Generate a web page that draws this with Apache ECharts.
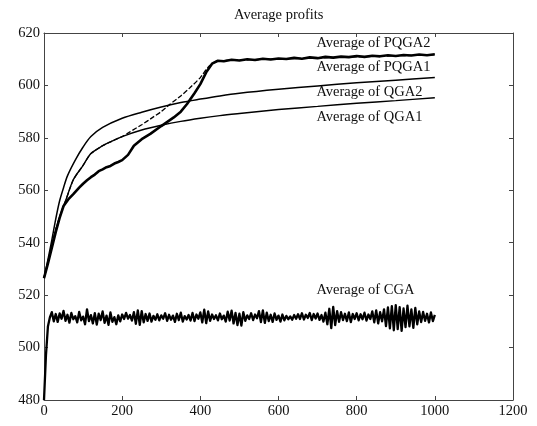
<!DOCTYPE html>
<html>
<head>
<meta charset="utf-8">
<script src="https://cdn.jsdelivr.net/npm/echarts@6.0.0/dist/echarts.min.js"></script>
<style>
  html, body { margin: 0; padding: 0; background: #fff; }
  #chart { width: 537px; height: 426px; }
</style>
</head>
<body>
<div id="chart"></div>
<script>
// ---- Axis ranges / ticks ----
const xTicks = [0, 200, 400, 600, 800, 1000, 1200];
const yTicks = [480, 500, 520, 540, 560, 580, 600, 620];

// ---- Series: Average of QGA2 (smooth, ends ~603) ----
const qga2X = [0, 10, 20, 30, 40, 50, 60, 80, 100, 120, 150, 200, 250, 300, 350, 400, 450, 500, 600, 700, 800, 900, 1000];
const qga2Y = [526.5, 533.5, 541, 549, 556, 561, 565.5, 571.5, 576.5, 580.5, 584, 587.5, 589.8, 591.8, 593.5, 594.8, 596, 597, 598.5, 599.8, 601, 602, 603];

// ---- Series: Average of QGA1 (ends ~595) ----
const qga1X = [0, 10, 20, 30, 45, 56, 75, 100, 120, 150, 170, 200, 250, 300, 350, 400, 450, 500, 600, 700, 800, 900, 1000];
const qga1Y = [526.5, 532.5, 539, 545, 552, 556.3, 564, 569.5, 574, 577, 578.5, 580.5, 583, 584.8, 586.3, 587.5, 588.5, 589.3, 590.8, 592, 593.2, 594.2, 595.3];

// ---- Series: Average of PQGA1 (dashed rise to plateau ~610) ----
const pqga1X = [0, 10, 20, 30, 45, 56, 75, 100, 120, 150, 170, 200, 220, 250, 280, 300, 323, 350, 374, 400, 420, 440, 460, 500, 600, 700, 800, 900, 1000];
const pqga1Y = [526.5, 532.5, 539, 545, 552, 556.3, 564, 569.5, 574, 577, 578.5, 580.5, 582.3, 585, 588, 590, 592.9, 596, 599.2, 603, 607, 609.2, 609.5, 609.7, 610.1, 610.5, 610.9, 611.3, 611.7];

// ---- Series: Average of PQGA2 (thick, noisy, plateau ~610-612) ----
const pqga2X = [0, 10, 20, 30, 40, 50, 62, 75, 90, 100, 110, 120, 130, 140, 150, 160, 170, 180, 190, 200,
  215, 230, 250, 272, 300, 332, 350, 366, 385, 400, 415, 430, 445,
  460, 480, 500, 520, 540, 560, 580, 600, 620, 640, 660, 680, 700, 720, 740, 760, 780, 800, 820, 840, 860, 880, 900, 920, 940, 960, 980, 1000];
const pqga2Y = [526.5, 532, 538, 544, 549.5, 554, 556.5, 558.5, 561, 562.5, 563.8, 565, 566, 567.3, 568, 568.8, 569.3, 570.2, 570.8, 571.5,
  573.5, 577, 579.5, 581.5, 584.5, 587.8, 590, 592.9, 597, 600.5, 605, 608.3, 609.4,
  609.2, 609.8, 609.5, 610, 609.7, 610.2, 609.9, 610.3, 610.1, 610.5, 610.2, 610.7, 610.4, 610.9, 610.6, 611, 610.8, 611.2, 610.9, 611.3, 611.1, 611.5, 611.2, 611.6, 611.4, 611.8, 611.5, 611.9];

// ---- Series: Average of CGA (sampled every 5 generations, 0..1000) ----
const cgaStep = 5;
const cgaY = [
  480, 497, 508, 511.5,
  513.5, 510, 512.8, 509.8, 513, 511, 514, 510.2, 512.5, 509.5, 513.2, 510.8, 512, 509.6, 513.6, 510.4,
  511.8, 508.9, 514.6, 510.1, 512.4, 509.2, 513.1, 508.8, 512.9, 510.5, 513.8, 509.4, 512.2, 508.7, 513.4, 509.8, 511.6, 508.9, 512.3, 510,
  512.6, 510.9, 513.2, 511, 512.4, 510.3, 513.5, 509.1, 514.2, 508.7, 513.9, 509.6, 512.8, 510.2, 513, 509.9, 512.1, 510.6, 512.7, 510.4,
  512.3, 511, 513.1, 510.2, 512.5, 510.6, 512.2, 509.8, 512.9, 510.5, 513.3, 509.9, 512, 510.7, 512.4, 510.3, 513.2, 510.1, 512.6, 511,
  513.4, 509.6, 514.5, 509.3, 513.8, 510.2, 512.6, 510.9, 512.3, 510.4, 513, 510.8, 512.2, 509.9, 513.7, 510.3, 514.1, 509.2, 513.2, 508.6,
  512.9, 508.4, 513.5, 510.2, 512.3, 510.9, 513.1, 510.5, 512.6, 511.2, 513.9, 509.7, 514.2, 509.4, 513.3, 510.1, 512.5, 509.8, 513, 510.6,
  512.2, 509.9, 512.6, 510.4, 512.1, 510.8, 511.9, 510.6, 512.4, 511, 512.7, 510.9, 513.1, 510.7, 512.5, 511.3, 513.2, 510.5, 512.8, 511.1,
  513, 510.6, 512.4, 509.9, 513.3, 508.9, 514.8, 507.4, 515.5, 508.6, 513.9, 509.8, 513.5, 510.5, 512.9, 510.1, 513.4, 509.7, 512.8, 510.9,
  513.1, 510.4, 512.7, 510.8, 513.3, 510.3, 512.6, 510.9, 513.8, 509.6, 514.2, 509.2, 513.5, 510, 514.6, 508.2, 515.3, 507.3, 515.8, 506.6,
  516.2, 507, 515.4, 506.4, 514.9, 507.8, 516, 508.1, 514.6, 507.5, 515.1, 508.9, 513.8, 509.7, 513.6, 510.2, 512.9, 509.6, 513.4, 510.1,
  512.5
];

// ---- In-plot labels (series names) ----
const seriesNames = ['Average of PQGA2', 'Average of PQGA1', 'Average of QGA2', 'Average of QGA1', 'Average of CGA'];

function zip(xs, ys) { return xs.map((x, i) => [x, ys[i]]); }
const cgaX = cgaY.map((_, i) => i * cgaStep);

const FONT = 'Liberation Serif, Times New Roman, serif';
const INK = '#111';

function nameLabel(text, x, y) {
  return {
    silent: true,
    symbol: 'circle',
    symbolSize: 0,
    label: {
      show: true, position: 'right', distance: 0, formatter: text,
      fontFamily: FONT, fontSize: 14.5, color: INK
    },
    data: [{ coord: [x, y] }]
  };
}

const frame = '#444';
function axisCommon(showLabels) {
  return {
    axisLine: { show: true, onZero: false, lineStyle: { color: frame, width: 1 } },
    axisTick: { show: true, inside: true, length: 4, lineStyle: { color: frame } },
    axisLabel: { show: showLabels, fontFamily: FONT, fontSize: 14.5, color: INK, margin: 4,
      formatter: (v) => String(v) },
    splitLine: { show: false }
  };
}

const chart = echarts.init(document.getElementById('chart'), null, { renderer: 'canvas' });
chart.setOption({
  animation: false,
  backgroundColor: '#fff',
  title: {
    text: 'Average profits', left: 229, top: 3,
    textStyle: { fontFamily: FONT, fontSize: 14.5, fontWeight: 'normal', color: INK }
  },
  grid: { left: 44, right: 24, top: 33, bottom: 26, containLabel: false },
  xAxis: [
    Object.assign({ type: 'value', min: xTicks[0], max: xTicks[xTicks.length - 1], interval: xTicks[1] - xTicks[0], position: 'bottom' }, axisCommon(true)),
    Object.assign({ type: 'value', min: xTicks[0], max: xTicks[xTicks.length - 1], interval: xTicks[1] - xTicks[0], position: 'top' }, axisCommon(false))
  ],
  yAxis: [
    Object.assign({ type: 'value', min: yTicks[0], max: yTicks[yTicks.length - 1], interval: yTicks[1] - yTicks[0], position: 'left' }, axisCommon(true)),
    Object.assign({ type: 'value', min: yTicks[0], max: yTicks[yTicks.length - 1], interval: yTicks[1] - yTicks[0], position: 'right' }, axisCommon(false))
  ],
  series: [
    {
      name: seriesNames[4], type: 'line', showSymbol: false, symbol: 'none',
      data: zip(cgaX, cgaY),
      lineStyle: { color: '#000', width: 2.3, join: 'round' },
      markPoint: nameLabel(seriesNames[4], 697, 521.9)
    },
    {
      name: seriesNames[3], type: 'line', showSymbol: false, symbol: 'none', smooth: 0.3,
      data: zip(qga1X, qga1Y),
      lineStyle: { color: '#000', width: 1.4 },
      markPoint: nameLabel(seriesNames[3], 697, 588)
    },
    {
      name: seriesNames[2], type: 'line', showSymbol: false, symbol: 'none', smooth: 0.3,
      data: zip(qga2X, qga2Y),
      lineStyle: { color: '#000', width: 1.5 },
      markPoint: nameLabel(seriesNames[2], 697, 597.5)
    },
    {
      name: seriesNames[1], type: 'line', showSymbol: false, symbol: 'none', smooth: 0.2,
      data: zip(pqga1X, pqga1Y),
      lineStyle: { color: '#000', width: 1.3, type: [5, 2] },
      markPoint: nameLabel(seriesNames[1], 697, 607)
    },
    {
      name: seriesNames[0], type: 'line', showSymbol: false, symbol: 'none',
      data: zip(pqga2X, pqga2Y),
      lineStyle: { color: '#000', width: 2.6 },
      markPoint: nameLabel(seriesNames[0], 697, 616.2)
    }
  ]
});
</script>
</body>
</html>
